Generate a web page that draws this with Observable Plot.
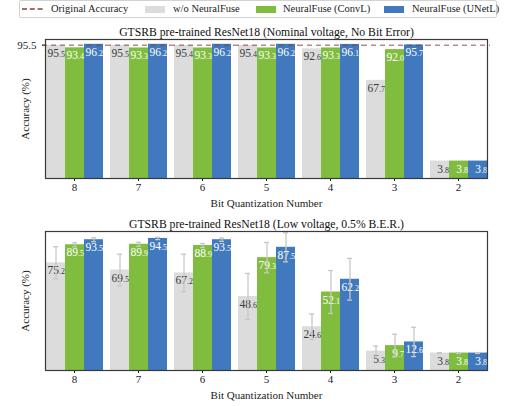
<!DOCTYPE html>
<html><head><meta charset="utf-8">
<script src="https://cdn.jsdelivr.net/npm/d3@7"></script>
<script src="https://cdn.jsdelivr.net/npm/@observablehq/plot@0.6"></script>
<style>
body{margin:0;background:#fff;font-family:"Liberation Serif",serif;}
#wrap{position:relative;width:506px;height:406px;overflow:hidden;}
#legend{position:absolute;left:19px;top:0;width:476px;height:16px;border:1px solid #d2d2d2;border-radius:2px;font-size:10.5px;color:#222;}
#legend .t{position:absolute;top:0;line-height:16px;white-space:nowrap;}
#legend .sw{position:absolute;top:4.5px;width:20px;height:7px;}
#legend svg{position:absolute;top:6px;}
#c1{position:absolute;left:0;top:18px}
#c2{position:absolute;left:0;top:210px}
#c1 svg, #c2 svg, #c1 svg text, #c2 svg text{font-family:"Liberation Serif",serif;}
</style>
</head><body>
<div id="wrap">
  <div id="legend">
    <svg style="left:2px" width="21" height="4"><line x1="0" y1="2" x2="21" y2="2" stroke="#8c3b3b" stroke-width="1.5" stroke-dasharray="5,2.8"/></svg>
    <span class="t" style="left:31px">Original Accuracy</span>
    <div class="sw" style="left:125px;background:#dcdcdc"></div>
    <span class="t" style="left:153px">w/o NeuralFuse</span>
    <div class="sw" style="left:236px;background:#80bd3e"></div>
    <span class="t" style="left:263px">NeuralFuse (ConvL)</span>
    <div class="sw" style="left:364px;background:#4079bd"></div>
    <span class="t" style="left:392px">NeuralFuse (UNetL)</span>
  </div>
  <div id="c1"></div>
  <div id="c2"></div>
</div>
<script>
// ---- data ----
const bits = ["8", "7", "6", "5", "4", "3", "2"];
const methods = ["w/o NeuralFuse", "NeuralFuse (ConvL)", "NeuralFuse (UNetL)"];
const titleNominal = "GTSRB pre-trained ResNet18 (Nominal voltage, No Bit Error)";
const titleLow = "GTSRB pre-trained ResNet18 (Low voltage, 0.5% B.E.R.)";
const xLabel = "Bit Quantization Number";
const yLabel = "Accuracy (%)";
const originalAccuracy = 95.5;
const yDomain = [-10, 100];

const nominalWo    = [95.5, 95.5, 95.4, 95.4, 92.6, 67.7, 3.8];
const nominalConvL = [93.4, 93.3, 93.3, 93.3, 93.3, 92.0, 3.8];
const nominalUNetL = [96.2, 96.2, 96.2, 96.2, 96.1, 95.7, 3.8];

const lowWo    = [75.2, 69.5, 67.2, 48.6, 24.6, 5.3, 3.8];
const lowConvL = [89.5, 89.9, 88.9, 79.3, 52.1, 9.7, 3.8];
const lowUNetL = [93.5, 94.5, 93.5, 87.5, 62.2, 12.6, 3.8];
const lowWoErr    = [12.8, 12.5, 14.8, 18.2, 10.2, 4.0, 0.3];
const lowConvLErr = [1.6, 1.6, 1.6, 12.0, 17.0, 9.0, 0.3];
const lowUNetLErr = [1.6, 0.9, 1.3, 11.5, 16.5, 11.6, 0.3];

// ---- styles ----
const barColors = {"w/o NeuralFuse": "#dcdcdc", "NeuralFuse (ConvL)": "#80bd3e", "NeuralFuse (UNetL)": "#4079bd"};
const textColors = {"w/o NeuralFuse": "#3a3a3a", "NeuralFuse (ConvL)": "#ffffff", "NeuralFuse (UNetL)": "#ffffff"};

function rows(series, errs) {
  const out = [];
  bits.forEach((b, i) => series.forEach((arr, j) => out.push({
    bit: b, method: methods[j], value: arr[i], err: errs ? errs[j][i] : 0
  })));
  return out;
}
const nominal = rows([nominalWo, nominalConvL, nominalUNetL]);
const low = rows([lowWo, lowConvL, lowUNetL], [lowWoErr, lowConvLErr, lowUNetLErr]);

function chart(data, title, withRef, withErr) {
  const marks = [
    Plot.barY(data, {fx: "bit", x: "method", y1: () => yDomain[0], y2: "value", fill: d => barColors[d.method]}),
    Plot.text(data, {fx: "bit", x: "method", y: "value", text: d => d.value.toFixed(1).split(".")[0],
      textAnchor: "end", dx: 3, dy: 11.5, lineAnchor: "bottom", fontSize: 11.5, fill: d => textColors[d.method]}),
    Plot.text(data, {fx: "bit", x: "method", y: "value", text: d => "." + d.value.toFixed(1).split(".")[1],
      textAnchor: "start", dx: 3, dy: 11.5, lineAnchor: "bottom", fontSize: 8, fill: d => textColors[d.method]})
  ];
  if (withErr) {
    marks.push(
      Plot.ruleX(data, {fx: "bit", x: "method", y1: d => d.value - d.err, y2: d => d.value + d.err, stroke: "#c8c8c8", strokeWidth: 1.3}),
      Plot.tickY(data, {fx: "bit", x: "method", y: d => d.value + d.err, stroke: "#c8c8c8", strokeWidth: 1.3, insetLeft: 7, insetRight: 7}),
      Plot.tickY(data, {fx: "bit", x: "method", y: d => d.value - d.err, stroke: "#c8c8c8", strokeWidth: 1.3, insetLeft: 7, insetRight: 7})
    );
  }
  if (withRef) {
    marks.push(Plot.ruleY([originalAccuracy], {stroke: "#8b3a3a", strokeOpacity: 0.6, strokeWidth: 1.5, strokeDasharray: "5,4", insetLeft: -3, insetRight: -3}));
  }
  marks.push(
    Plot.frame({facet: "super", stroke: "#3a3a3a", strokeWidth: 1.2}),
    Plot.text([title], {facet: "super", frameAnchor: "top", lineAnchor: "bottom", dy: -4, fontSize: 11.7, fill: "#111"})
  );
  return Plot.plot({
    width: 506, height: 191,
    marginLeft: 36, marginRight: 9, marginTop: 21, marginBottom: 31,
    style: {fontFamily: "Liberation Serif", fontSize: "11px", color: "#222", background: "transparent"},
    fx: {domain: bits, paddingInner: 0.092, paddingOuter: 0.124, label: xLabel, labelAnchor: "center", tickSize: 3, tickPadding: 2, labelOffset: 28},
    x: {domain: methods, padding: 0, axis: null},
    y: {domain: yDomain, ticks: withRef ? [originalAccuracy] : [], tickFormat: d => d.toFixed(1), label: yLabel, labelAnchor: "center", labelArrow: "none", tickSize: 3, labelOffset: 24},
    color: {type: "identity"},
    marks
  });
}
document.getElementById("c1").append(chart(nominal, titleNominal, true, false));
document.getElementById("c2").append(chart(low, titleLow, false, true));
</script>
</body></html>
